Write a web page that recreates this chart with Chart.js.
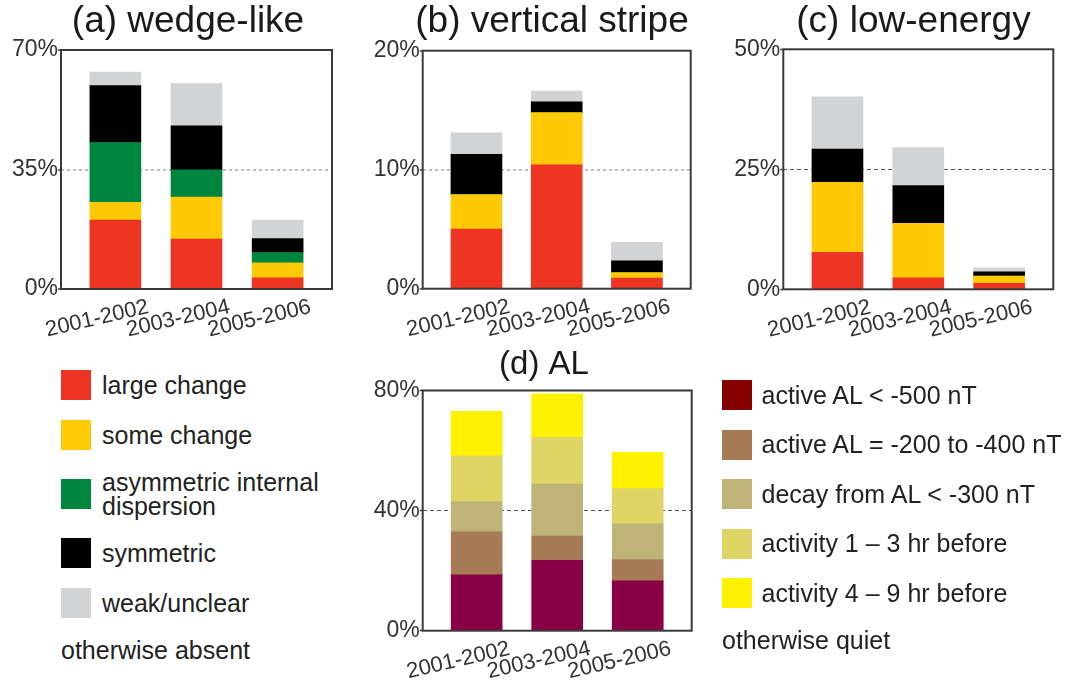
<!DOCTYPE html>
<html>
<head>
<meta charset="utf-8">
<script src="https://cdn.jsdelivr.net/npm/chart.js@4.4.1/dist/chart.umd.min.js"></script>
<style>
  html, body { margin: 0; padding: 0; background: #fff; overflow: hidden; width: 1072px; height: 682px; }
  canvas { position: absolute; }
  .legend { position: absolute; font-family: "Liberation Sans", Arial, sans-serif; font-size: 25px; color: #222; white-space: nowrap; }
  .row { display: flex; align-items: center; }
  .sw { width: 30px; height: 30px; flex: none; }
  .txt { line-height: 25px; }
</style>
</head>
<body>
<canvas id="chartA" width="376" height="345" style="left:0px;top:0px"></canvas>
<canvas id="chartB" width="384" height="345" style="left:360px;top:0px"></canvas>
<canvas id="chartC" width="367" height="345" style="left:730px;top:0px"></canvas>
<canvas id="chartD" width="358" height="342" style="left:365px;top:340px"></canvas>
<div class="legend" id="legendLeft" style="left:61px;top:370px"></div>
<div class="legend" id="legendRight" style="left:722px;top:380px"></div>

<script>
const periods = ["2001-2002", "2003-2004", "2005-2006"];

const changeNames = ["large change", "some change", "asymmetric internal dispersion", "symmetric", "weak/unclear"];
const changeColors = ["#EE3524", "#FFC907", "#00853F", "#000000", "#D1D3D4"];

// (a) wedge-like, % per period
const wedgeLarge = [20.2, 14.6, 3.3];
const wedgeSome = [5.2, 12.3, 4.4];
const wedgeAsym = [17.5, 8.0, 3.0];
const wedgeSym = [16.7, 12.9, 4.1];
const wedgeWeak = [3.9, 12.4, 5.4];

// (b) vertical stripe
const stripeLarge = [5.0, 10.4, 0.9];
const stripeSome = [2.9, 4.4, 0.45];
const stripeAsym = [0, 0, 0];
const stripeSym = [3.4, 0.9, 1.0];
const stripeWeak = [1.8, 0.9, 1.55];

// (c) low-energy
const lowLarge = [7.7, 2.4, 1.25];
const lowSome = [14.6, 11.35, 1.5];
const lowAsym = [0, 0, 0];
const lowSym = [6.9, 7.85, 0.9];
const lowWeak = [10.9, 7.9, 0.8];

// (d) AL
const alNames = ["active AL < -500 nT", "active AL = -200 to -400 nT", "decay from AL < -300 nT", "activity 1 \u2013 3 hr before", "activity 4 \u2013 9 hr before"];
const alColors = ["#8A0047", "#A67B55", "#BEB478", "#DFD466", "#FFF200"];
const alLegendColors = ["#870000", "#A67B55", "#BEB478", "#DFD466", "#FFF200"];
const alActive500 = [18.6, 23.4, 16.6];
const alActive200 = [14.3, 8.1, 7.1];
const alDecay = [10.1, 17.3, 11.9];
const alAct13 = [15.2, 15.6, 11.7];
const alAct49 = [14.9, 14.5, 12.1];

const ticksA = [0, 35, 70];
const ticksB = [0, 10, 20];
const ticksC = [0, 25, 50];
const ticksD = [0, 40, 80];

const fontFamily = '"Liberation Sans", Arial, sans-serif';

const framePlugin = {
  id: "frame",
  afterDatasetsDraw(chart) {
    const { ctx, chartArea: a } = chart;
    ctx.save();
    ctx.strokeStyle = "#3a3a3a";
    ctx.lineWidth = 2;
    ctx.strokeRect(a.left, a.top, a.right - a.left, a.bottom - a.top);
    ctx.restore();
  },
};

// box = plot frame in canvas pixels; the empty right axis keeps the title centred like the original
function makePanel(id, title, series, names, colors, yTicks, box, gridStyle) {
  const canvas = document.getElementById(id);
  const W = canvas.width;
  const H = canvas.height;
  const mid = yTicks[1];

  const datasets = series.map((vals, k) => ({
    label: names[k],
    data: vals.map((v, i) => ({ x: i, y: v })),
    backgroundColor: colors[k],
    borderWidth: 0,
    barThickness: 51,
  }));

  return new Chart(canvas, {
    type: "bar",
    data: { datasets: datasets },
    plugins: [framePlugin],
    options: {
      responsive: false,
      animation: false,
      layout: { padding: 0 },
      plugins: {
        legend: { display: false },
        tooltip: { enabled: false },
        title: {
          display: true,
          text: title.text,
          color: "#1a1a1a",
          font: { family: fontFamily, size: title.size, weight: "normal", lineHeight: 1.2 },
          padding: { top: title.padTop, bottom: box.top - title.padTop - title.size * 1.2 },
        },
      },
      scales: {
        x: {
          type: "linear",
          stacked: true,
          offset: false,
          min: -0.67,
          max: 2.67,
          grid: { display: false, drawTicks: false, offset: false },
          border: { display: false },
          afterBuildTicks: (axis) => {
            axis.ticks = periods.map((p, i) => ({ value: i }));
          },
          afterFit: (axis) => {
            axis.height = H - box.bottom;
            axis.paddingLeft = 0;
            axis.paddingRight = 0;
          },
          ticks: {
            autoSkip: false,
            minRotation: 13,
            maxRotation: 13,
            labelOffset: 33,
            padding: 5,
            color: "#333",
            font: { family: fontFamily, size: 22 },
            callback: (v) => periods[v],
          },
        },
        y: {
          stacked: true,
          min: 0,
          max: yTicks[2],
          afterBuildTicks: (axis) => {
            axis.ticks = yTicks.map((v) => ({ value: v }));
          },
          afterFit: (axis) => {
            axis.width = box.left;
          },
          border: { display: false, dash: gridStyle.dash },
          grid: {
            color: (ctx) => (ctx.tick && ctx.tick.value === mid ? gridStyle.color : "rgba(0,0,0,0)"),
            lineWidth: gridStyle.width,
            tickColor: "#3a3a3a",
            tickLength: 3,
            tickWidth: 1.5,
          },
          ticks: {
            padding: 0,
            color: "#333",
            font: { family: fontFamily, size: 23 },
            callback: (v) => v + "%",
          },
        },
        yRight: {
          type: "linear",
          position: "right",
          display: true,
          grid: { display: false, drawTicks: false },
          border: { display: false },
          ticks: { display: false },
          afterFit: (axis) => {
            axis.width = W - box.right;
          },
        },
      },
    },
  });
}

const lightDots = { color: "#BDBDBD", width: 2, dash: [3, 3] };
const darkDash = { color: "#555555", width: 1, dash: [4, 3] };

makePanel("chartA", { text: "(a) wedge-like", size: 37, padTop: 0 },
  [wedgeLarge, wedgeSome, wedgeAsym, wedgeSym, wedgeWeak], changeNames, changeColors,
  ticksA, { left: 61, top: 50, right: 332, bottom: 289 }, lightDots);

makePanel("chartB", { text: "(b) vertical stripe", size: 37, padTop: 0 },
  [stripeLarge, stripeSome, stripeAsym, stripeSym, stripeWeak], changeNames, changeColors,
  ticksB, { left: 62.7, top: 50.7, right: 330.7, bottom: 288.7 }, lightDots);

makePanel("chartC", { text: "(c) low-energy", size: 37, padTop: 0 },
  [lowLarge, lowSome, lowAsym, lowSym, lowWeak], changeNames, changeColors,
  ticksC, { left: 53.3, top: 49.3, right: 323.3, bottom: 289.3 }, darkDash);

makePanel("chartD", { text: "(d) AL", size: 33, padTop: 5 },
  [alActive500, alActive200, alDecay, alAct13, alAct49], alNames, alColors,
  ticksD, { left: 57.7, top: 50.5, right: 326.7, bottom: 290.7 }, darkDash);

function buildLegend(id, names, colors, gap, textGap, footer, wrapWidth) {
  const el = document.getElementById(id);
  names.forEach((name, k) => {
    const row = document.createElement("div");
    row.className = "row";
    row.style.marginBottom = gap + "px";
    const sw = document.createElement("div");
    sw.className = "sw";
    sw.style.background = colors[k];
    const txt = document.createElement("div");
    txt.className = "txt";
    txt.style.marginLeft = textGap + "px";
    if (wrapWidth) {
      txt.style.whiteSpace = "normal";
      txt.style.width = wrapWidth + "px";
      txt.style.lineHeight = "24px";
    }
    txt.textContent = name;
    row.appendChild(sw);
    row.appendChild(txt);
    el.appendChild(row);
  });
  const foot = document.createElement("div");
  foot.className = "txt";
  foot.textContent = footer;
  el.appendChild(foot);
}

buildLegend("legendLeft", changeNames, changeColors, 20, 11, "otherwise absent", 240);
buildLegend("legendRight", alNames, alLegendColors, 19.5, 9.5, "otherwise quiet", 0);
</script>
</body>
</html>
